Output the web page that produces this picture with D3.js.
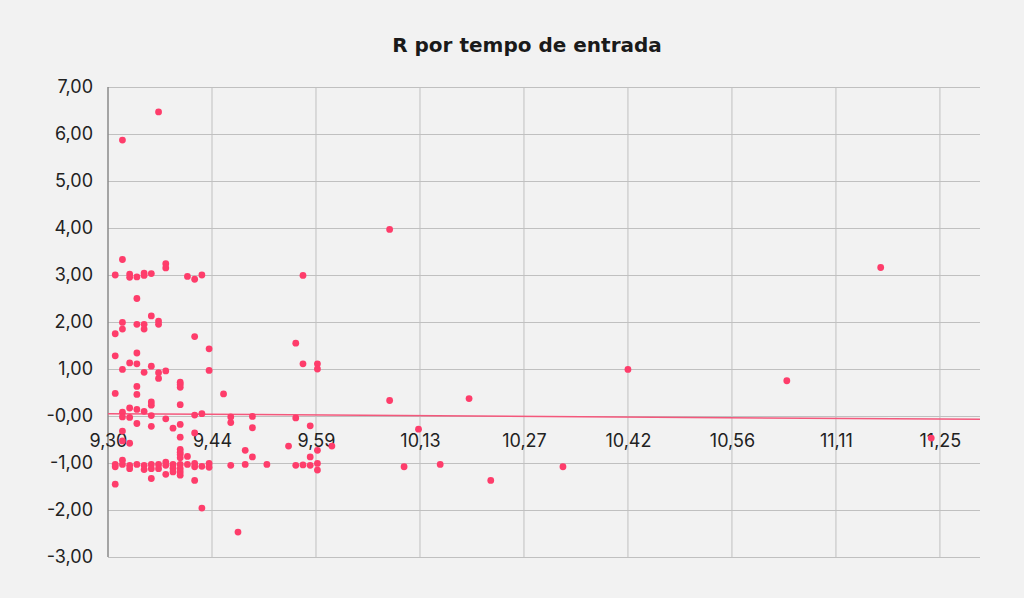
<!DOCTYPE html>
<html>
<head>
<meta charset="utf-8">
<script src="https://cdn.jsdelivr.net/npm/d3@7"></script>
<style>
  body { margin: 0; background: #f2f2f2; }
  svg text { font-family: Inter, "Open Sans", sans-serif; }
</style>
</head>
<body>
<div id="chart"></div>
<script>
// minutes after 9:30 for each trade, and its R result
const entryMinute = [
  1,1,1,1,1,1,1,
  2,2,2,2,2,2,2,2,2,2,2,
  3,3,3,3,3,3,3,3,
  4,4,4,4,4,4,4,4,4,4,
  5,5,5,5,5,5,5,5,
  6,6,6,6,6,6,6,6,6,6,
  7,7,7,7,7,7,7,
  8,8,8,8,8,8,8,
  9,9,9,9,
  10,10,10,10,10,10,10,10,10,10,10,10,10,10,
  11,11,11,
  12,12,12,12,12,12,12,
  13,13,13,13,
  14,14,14,14,
  16,
  17,17,17,
  18,
  19,19,
  20,20,20,
  22,
  25,
  26,26,26,
  27,27,27,
  28,28,28,
  29,29,29,29,29,
  31,
  39,39,
  41, 43, 46, 50, 53, 63, 72, 94, 107, 114
];
const rValue = [
  3.00, 1.75, 1.28, 0.48, -1.03, -1.08, -1.45,
  5.87, 3.33, 1.99, 1.85, 0.99, 0.08, -0.02, -0.32, -0.53, -0.94, -1.03,
  3.02, 2.95, 1.13, 0.17, -0.03, -0.58, -1.05, -1.12,
  2.96, 2.50, 1.95, 1.34, 1.11, 0.63, 0.46, 0.14, -0.16, -1.03,
  3.04, 2.99, 1.95, 1.85, 0.93, 0.10, -1.05, -1.14,
  3.03, 2.13, 1.06, 0.30, 0.23, 0.01, -0.22, -1.03, -1.12, -1.33,
  6.47, 2.02, 1.95, 0.92, 0.80, -1.03, -1.12,
  3.24, 3.15, 0.96, -0.06, -0.98, -1.05, -1.24,
  -0.26, -1.03, -1.11, -1.19,
  0.72, 0.67, 0.61, 0.24, -0.18, -0.45, -0.71, -0.77, -0.82, -0.89, -1.03, -1.12, -1.19, -1.26,
  2.97, -0.86, -1.03,
  2.91, 1.69, 0.02, -0.36, -1.01, -1.08, -1.37,
  3.00, 0.05, -1.07, -1.96,
  1.43, 0.97, -1.01, -1.09,
  0.47,
  -0.02, -0.14, -1.05,
  -2.47,
  -0.73, -1.03,
  -0.01, -0.25, -0.87,
  -1.03,
  -0.64,
  1.55, -0.04, -1.05,
  2.99, 1.11, -1.04,
  -0.21, -0.87, -1.05,
  1.11, 1.00, -0.73, -1.01, -1.15,
  -0.64,
  3.97, 0.33,
  -1.08, -0.28, -1.03, 0.37, -1.37, -1.08, 0.99, 0.75, 3.16, -0.47
];

// x ticks: every 14.4 minutes from 9:30
const xTickMinutes = [0, 14.4, 28.8, 43.2, 57.6, 72, 86.4, 100.8, 115.2];
const xTickLabels = ["9,30", "9,44", "9,59", "10,13", "10,27", "10,42", "10,56", "11,11", "11,25"];
const yTickValues = [-3, -2, -1, 0, 1, 2, 3, 4, 5, 6, 7];
const yTickLabels = ["-3,00", "-2,00", "-1,00", "-0,00", "1,00", "2,00", "3,00", "4,00", "5,00", "6,00", "7,00"];

// linear trend line ends
const trendMinute = [0, 120.75];
const trendR = [0.05, -0.07];

const chartTitle = "R por tempo de entrada";

const width = 1024;
const height = 598;
const plotLeft = 108, plotRight = 980, plotTop = 87, plotBottom = 557;
const pointColor = "#fe3d6b";
const gridColor = "#c0c0c0";

const dataset = entryMinute.map((m, i) => [m, rValue[i]]);

const xScale = d3.scaleLinear()
    .domain([0, 120.75])
    .range([plotLeft, plotRight]);

const yScale = d3.scaleLinear()
    .domain([-3, 7])
    .range([plotBottom, plotTop]);

const svg = d3.select("#chart")
    .append("svg")
    .attr("width", width)
    .attr("height", height);

svg.append("rect")
    .attr("width", width)
    .attr("height", height)
    .attr("fill", "#f2f2f2");

svg.append("text")
    .attr("x", 527)
    .attr("y", 52)
    .attr("text-anchor", "middle")
    .style("font-family", "'DejaVu Sans', sans-serif")
    .attr("font-size", 20)
    .attr("font-weight", "bold")
    .attr("fill", "#1a1a1a")
    .text(chartTitle);

// horizontal grid + y labels
const yAxis = d3.axisLeft(yScale)
    .tickValues(yTickValues)
    .tickSize(-(plotRight - plotLeft))
    .tickPadding(15)
    .tickFormat((d, i) => yTickLabels[i]);

const gy = svg.append("g")
    .attr("transform", "translate(" + plotLeft + ",0)")
    .call(yAxis);
gy.select(".domain").remove();
gy.selectAll("line").attr("stroke", gridColor);
gy.selectAll("text")
    .attr("font-size", 18)
    .attr("fill", "#222");

// vertical grid
svg.append("g")
    .selectAll("line")
    .data(xTickMinutes)
    .enter()
    .append("line")
    .attr("x1", (d) => xScale(d))
    .attr("x2", (d) => xScale(d))
    .attr("y1", plotTop)
    .attr("y2", plotBottom)
    .attr("stroke", (d, i) => i == 0 ? "#8a8a8a" : gridColor)
    .attr("stroke-width", (d, i) => i == 0 ? 1.5 : 1);

// x labels sit just under the zero line
const xAxis = d3.axisBottom(xScale)
    .tickValues(xTickMinutes)
    .tickSize(0)
    .tickPadding(18)
    .tickFormat((d, i) => xTickLabels[i]);

const gx = svg.append("g")
    .attr("transform", "translate(0," + yScale(0) + ")")
    .call(xAxis);
gx.select(".domain").remove();
gx.selectAll("text")
    .attr("font-size", 18)
    .attr("fill", "#222");

// trend line
svg.append("line")
    .attr("x1", xScale(trendMinute[0]))
    .attr("y1", yScale(trendR[0]))
    .attr("x2", xScale(trendMinute[1]))
    .attr("y2", yScale(trendR[1]))
    .attr("stroke", "#f4587c")
    .attr("stroke-width", 1.5);

svg.selectAll("circle")
    .data(dataset)
    .enter()
    .append("circle")
    .attr("cx", (d) => xScale(d[0]))
    .attr("cy", (d) => yScale(d[1]))
    .attr("r", 3.4)
    .attr("fill", pointColor);
</script>
</body>
</html>
